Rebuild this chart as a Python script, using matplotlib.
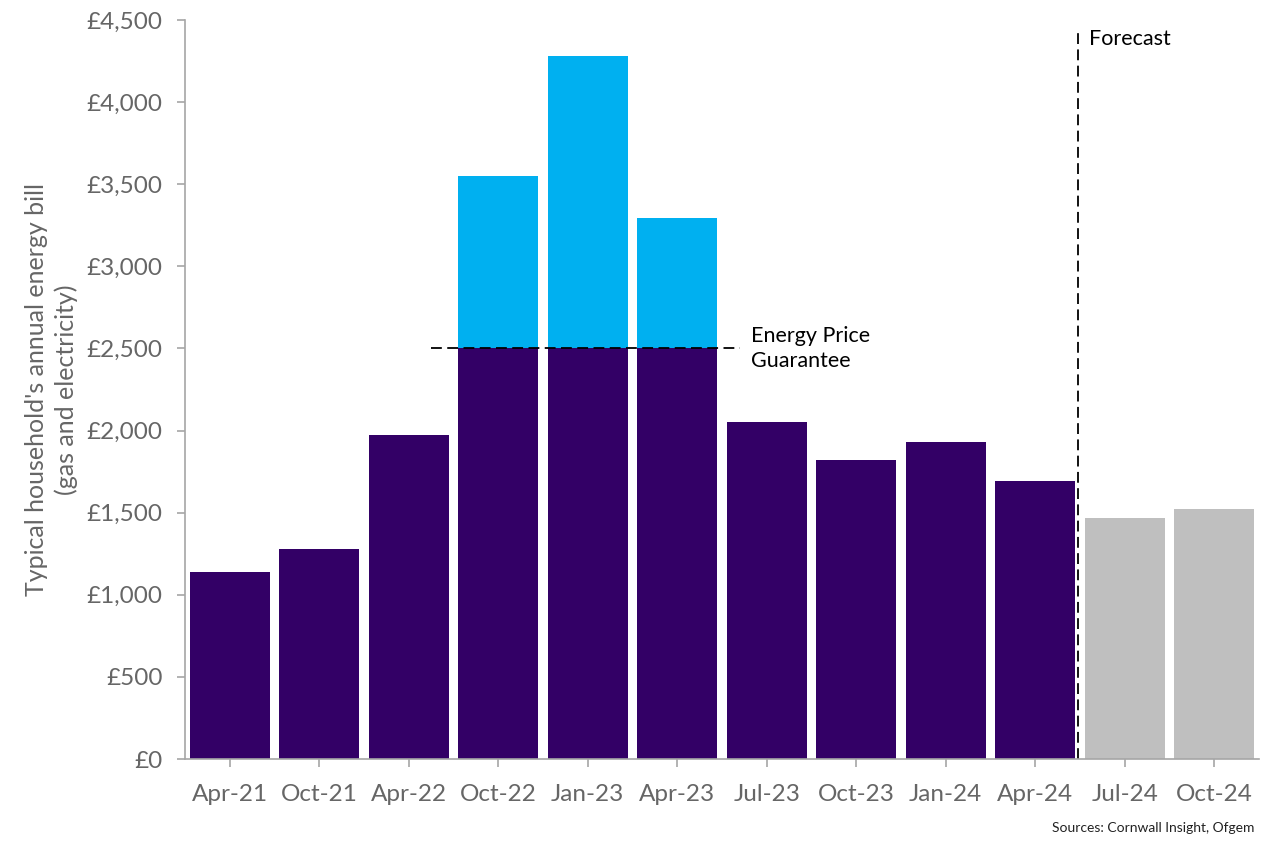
import numpy as np
import matplotlib.pyplot as plt

months = ['Apr-21', 'Oct-21', 'Apr-22', 'Oct-22', 'Jan-23', 'Apr-23',
          'Jul-23', 'Oct-23', 'Jan-24', 'Apr-24', 'Jul-24', 'Oct-24']
bills = [1138, 1277, 1971, 3549, 4279, 3294, 2053, 1823, 1928, 1690, 1466, 1521]
is_forecast = [False] * 10 + [True] * 2
guarantee = 2500

purple = '#330066'
blue = '#00B0F0'
grey = '#BFBFBF'
text_grey = '#666666'

plt.rcParams['font.family'] = ['Lato', 'DejaVu Sans']

fig = plt.figure(figsize=(12.61, 8.41), dpi=100)
ax = fig.add_axes([0.1467, 0.0975, 0.8517, 0.8787])

x = np.arange(len(months))
bills = np.array(bills)
forecast = np.array(is_forecast)
capped = np.minimum(bills, guarantee)
# EPG applied only to Oct-22 .. Apr-23 (where the bill is above the cap)
above = np.where(~forecast, bills - capped, 0)

base_colors = [grey if f else purple for f in forecast]
ax.bar(x, np.where(forecast, bills, capped), width=0.89, color=base_colors)
ax.bar(x, above, bottom=capped, width=0.89, color=blue)

# Energy Price Guarantee line
ax.plot([2.25, 5.7], [guarantee, guarantee], color='black', lw=1.3,
        linestyle=(0, (6, 3)))
ax.text(5.82, guarantee, 'Energy Price\nGuarantee', fontsize=15.5,
        va='center', ha='left', linespacing=1.3)

# forecast divider
ax.plot([9.48, 9.48], [0, 4420], color='black', lw=1.3, linestyle=(0, (6, 3)))
ax.text(9.6, 4385, 'Forecast', fontsize=15.5, va='center', ha='left')

ax.set_xlim(-0.5, 11.5)
ax.set_ylim(0, 4500)
ax.set_yticks(np.arange(0, 4501, 500))
ax.set_yticklabels(['£{:,}'.format(v) for v in range(0, 4501, 500)])
ax.set_xticks(x)
ax.set_xticklabels(months)

for s in ['top', 'right']:
    ax.spines[s].set_visible(False)
for s in ['left', 'bottom']:
    ax.spines[s].set_color('#A6A6A6')
    ax.spines[s].set_linewidth(1.2)
ax.tick_params(axis='both', colors='#A6A6A6', labelcolor=text_grey,
               labelsize=17.5, length=6, width=1.2)
ax.tick_params(axis='y', pad=10)
ax.tick_params(axis='x', pad=12)

ax.set_ylabel("Typical household's annual energy bill\n(gas and electricity)",
              fontsize=18, color=text_grey, labelpad=6, linespacing=1.35)

fig.text(0.995, 0.008, 'Sources: Cornwall Insight, Ofgem', fontsize=10,
         ha='right', va='bottom', color='#222222')

fig.savefig('out.png', dpi=100)
